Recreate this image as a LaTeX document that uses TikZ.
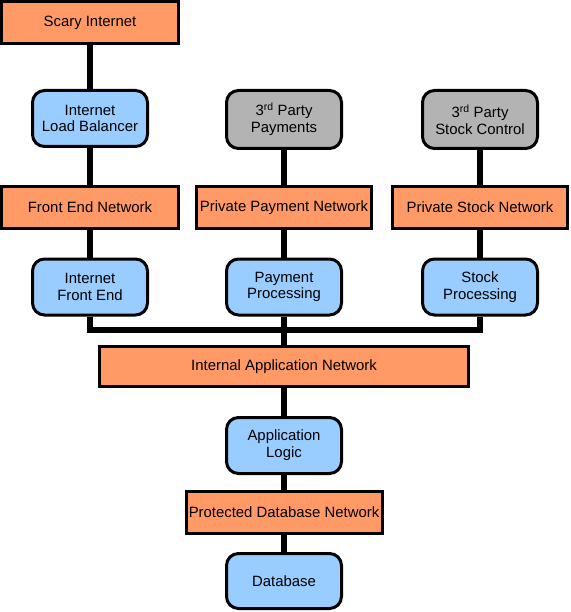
\documentclass[tikz,border=0pt]{standalone}
\usepackage{fontspec}
\setmainfont{Liberation Sans}
\usetikzlibrary{positioning}
\definecolor{netorange}{RGB}{255,153,102}
\definecolor{hostblue}{RGB}{153,204,255}
\definecolor{extgray}{RGB}{179,179,179}

\begin{document}
\begin{tikzpicture}[x=1pt,y=1pt,
  font=\fontsize{14.9}{16.8}\selectfont,
  net/.style={draw,line width=3pt,fill=netorange,minimum width=175pt,
    minimum height=42pt,inner sep=0pt},
  host/.style={draw,line width=3pt,rounded corners=12pt,fill=hostblue,
    minimum width=115pt,minimum height=56pt,align=center,inner sep=0pt},
  extern/.style={host,fill=extgray},
  wire/.style={line width=6pt,line join=miter}]
\useasboundingbox (0,0) rectangle (570,-612);
% Left column: internet side
\node[net,minimum width=177pt] (scary) at (90,-22.5) {Scary Internet};
\node[host] (lb) at (90,-118.5) {Internet\\Load Balancer};
\node[net,minimum width=177pt] (fen) at (90,-207.5) {Front End Network};
\node[host] (ife) at (90,-287) {Internet\\Front End};
% Middle column: payments
\node[extern,minimum height=58pt] (pay3) at (284,-119.5) {3\textsuperscript{rd} Party\\Payments};
\node[net] (ppn) at (284,-207.5) {Private Payment Network};
\node[host] (pp) at (284,-287) {Payment\\Processing};
% Right column: stock
\node[extern,minimum height=58pt] (stock3) at (480,-119.5) {3\textsuperscript{rd} Party\\Stock Control};
\node[net] (psn) at (480,-207.5) {Private Stock Network};
\node[host] (sp) at (480,-287) {Stock\\Processing};
% Shared application tier
\node[net,minimum width=369pt,minimum height=40pt] (ian) at (284,-366.5) {Internal Application Network};
\node[host] (al) at (284,-445.5) {Application\\Logic};
\node[net,minimum width=196pt] (pdn) at (284,-512.5) {Protected Database Network};
\node[host,minimum height=55pt] (db) at (284,-581) {Database};
% Bus corners
\coordinate (busL) at (90,-330);
\coordinate (busR) at (480,-330);
% Wires
\draw[wire] (scary) -- (lb);
\draw[wire] (lb) -- (fen);
\draw[wire] (fen) -- (ife);
\draw[wire] (pay3) -- (ppn);
\draw[wire] (ppn) -- (pp);
\draw[wire] (stock3) -- (psn);
\draw[wire] (psn) -- (sp);
\draw[wire] (ife) -- (busL) -- (busR) -- (sp);
\draw[wire] (pp) -- (ian);
\draw[wire] (ian) -- (al);
\draw[wire] (al) -- (pdn);
\draw[wire] (pdn) -- (db);
\end{tikzpicture}
\end{document}
